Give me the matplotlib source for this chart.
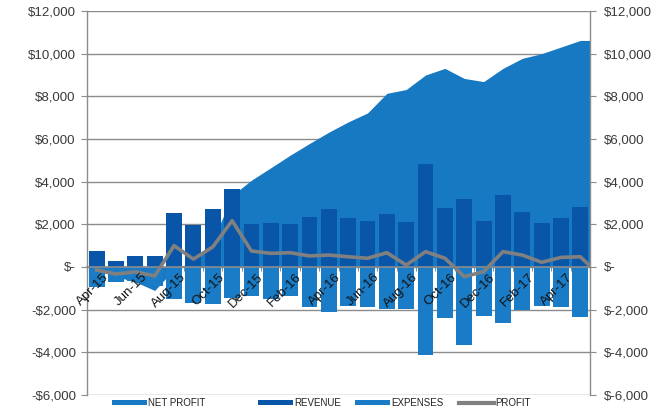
import matplotlib
matplotlib.use("Agg")
import matplotlib.pyplot as plt
import numpy as np
from matplotlib.patches import Patch
from matplotlib.lines import Line2D

months = ["Apr-15", "May-15", "Jun-15", "Jul-15", "Aug-15", "Sep-15", "Oct-15", "Nov-15",
          "Dec-15", "Jan-16", "Feb-16", "Mar-16", "Apr-16", "May-16", "Jun-16", "Jul-16",
          "Aug-16", "Sep-16", "Oct-16", "Nov-16", "Dec-16", "Jan-17", "Feb-17", "Mar-17",
          "Apr-17", "May-17"]

revenue = [770, 300, 500, 500, 2520, 1970, 2720, 3670,
           2020, 2080, 2020, 2360, 2700, 2310, 2170, 2500,
           2090, 4830, 2770, 3170, 2140, 3370, 2580, 2060,
           2310, 2810]

expenses = [-930, -690, -650, -900, -1500, -1670, -1750, -1470,
            -1360, -1500, -1340, -1860, -2120, -1830, -1860, -1980,
            -1980, -4130, -2410, -3670, -2300, -2640, -2020, -1810,
            -1860, -2330]

profit = [-140, -330, -230, -420, 1000, 370, 940, 2170,
          750, 640, 670, 520, 560, 480, 410, 670,
          90, 720, 410, -450, -220, 720, 560, 220,
          450, 480]
profit_end = 50

net_profit = [-150, -450, -700, -1100, -100, 250, 1200, 3350,
              4070, 4650, 5240, 5790, 6320, 6800, 7220, 8140,
              8320, 9000, 9310, 8840, 8690, 9310, 9780, 10000,
              10310, 10620]

yticks = [12000, 10000, 8000, 6000, 4000, 2000, 0, -2000, -4000, -6000]
left_labels = ["$12,000", "$10,000", "$8,000", "$6,000", "$4,000", "$2,000", "$-",
               "-$2,000", "-$4,000", "-$6,000"]
right_labels = ["$12,000", "$10,000", "$8,000", "$6,000", "$4,000", "$2,000", "$-",
                "$-2,000", "$-4,000", "$-6,000"]

c_area = "#1779c2"
c_rev = "#0956a8"
c_exp = "#1a7cc6"
c_line = "#808080"
c_grid = "#8c8c8c"
c_text = "#3a3a3a"

plt.rcParams["font.family"] = ["Liberation Sans", "DejaVu Sans"]

fig = plt.figure(figsize=(6.7, 4.07), dpi=100)
ax = fig.add_axes([87/670, 1 - 395/407, (590-87)/670, (395-11)/407])

n = len(months)
x = np.arange(n)

# area (net profit) extended flat to the right edge
xa = np.append(x, n - 0.5)
ya = np.append(net_profit, net_profit[-1])
ax.fill_between(xa, 0, ya, color=c_area, linewidth=0, zorder=1)

ax.bar(x, revenue, width=0.82, color=c_rev, zorder=2)
ax.bar(x, expenses, width=0.82, color=c_exp, zorder=2)

xl = np.append(x, n - 0.5)
yl = np.append(profit, profit_end)
ax.plot(xl, yl, color=c_line, linewidth=2.6, zorder=4, solid_joinstyle="round")

ax.set_xlim(-0.5, n - 0.5)
ax.set_ylim(-6000, 12000)

ax.set_yticks(yticks)
ax.set_yticklabels(left_labels)
ax.grid(axis="y", color=c_grid, linewidth=1.0, zorder=0)
ax.set_axisbelow(True)

ax.tick_params(axis="y", colors=c_grid, length=4, width=0.8, labelcolor=c_text, labelsize=9.5, pad=4)

ax.spines["top"].set_visible(False)
for s in ["left", "right"]:
    ax.spines[s].set_color(c_grid)
    ax.spines[s].set_linewidth(1.0)
ax.spines["bottom"].set_position(("data", 0))
ax.spines["bottom"].set_color(c_grid)
ax.spines["bottom"].set_linewidth(1.2)
ax.spines["bottom"].set_zorder(3)

# x ticks: category boundaries as minor ticks, labels every other month
ax.set_xticks(np.arange(-0.5, n, 1.0), minor=True)
ax.tick_params(axis="x", which="minor", length=3, color=c_grid, width=0.8, direction="out")
ax.set_xticks(x[::2])
ax.set_xticklabels([])
ax.tick_params(axis="x", which="major", length=0)
for xi, lab in zip(x[::2], months[::2]):
    ax.annotate(lab, xy=(xi, 0), xycoords="data", xytext=(4, -3), textcoords="offset points",
                rotation=45, ha="right", va="top", rotation_mode="anchor",
                fontsize=9.5, color="#111111", zorder=5, annotation_clip=False)

ax2 = ax.twinx()
ax2.set_ylim(-6000, 12000)
ax2.set_yticks(yticks)
ax2.set_yticklabels(right_labels)
ax2.tick_params(axis="y", colors=c_grid, length=4, width=0.8, labelcolor=c_text, labelsize=9.5, pad=6)
for s in ["top", "bottom", "left", "right"]:
    ax2.spines[s].set_visible(False)

# legend entries placed individually
entries = [
    (Patch(facecolor=c_area), "NET PROFIT", 112),
    (Patch(facecolor=c_rev), "REVENUE", 258),
    (Patch(facecolor=c_exp), "EXPENSES", 355),
    (Line2D([0], [0], color=c_line, linewidth=3), "PROFIT", 459),
]
for h, lab, px in entries:
    lg = fig.legend([h], [lab], loc="center left", bbox_to_anchor=(px/670, 1 - 403/407),
                    frameon=False, fontsize=7, handlelength=3.6, handleheight=0.45,
                    handletextpad=0.1, borderpad=0, borderaxespad=0, labelcolor="#222222")

fig.savefig("out.png", dpi=100)
